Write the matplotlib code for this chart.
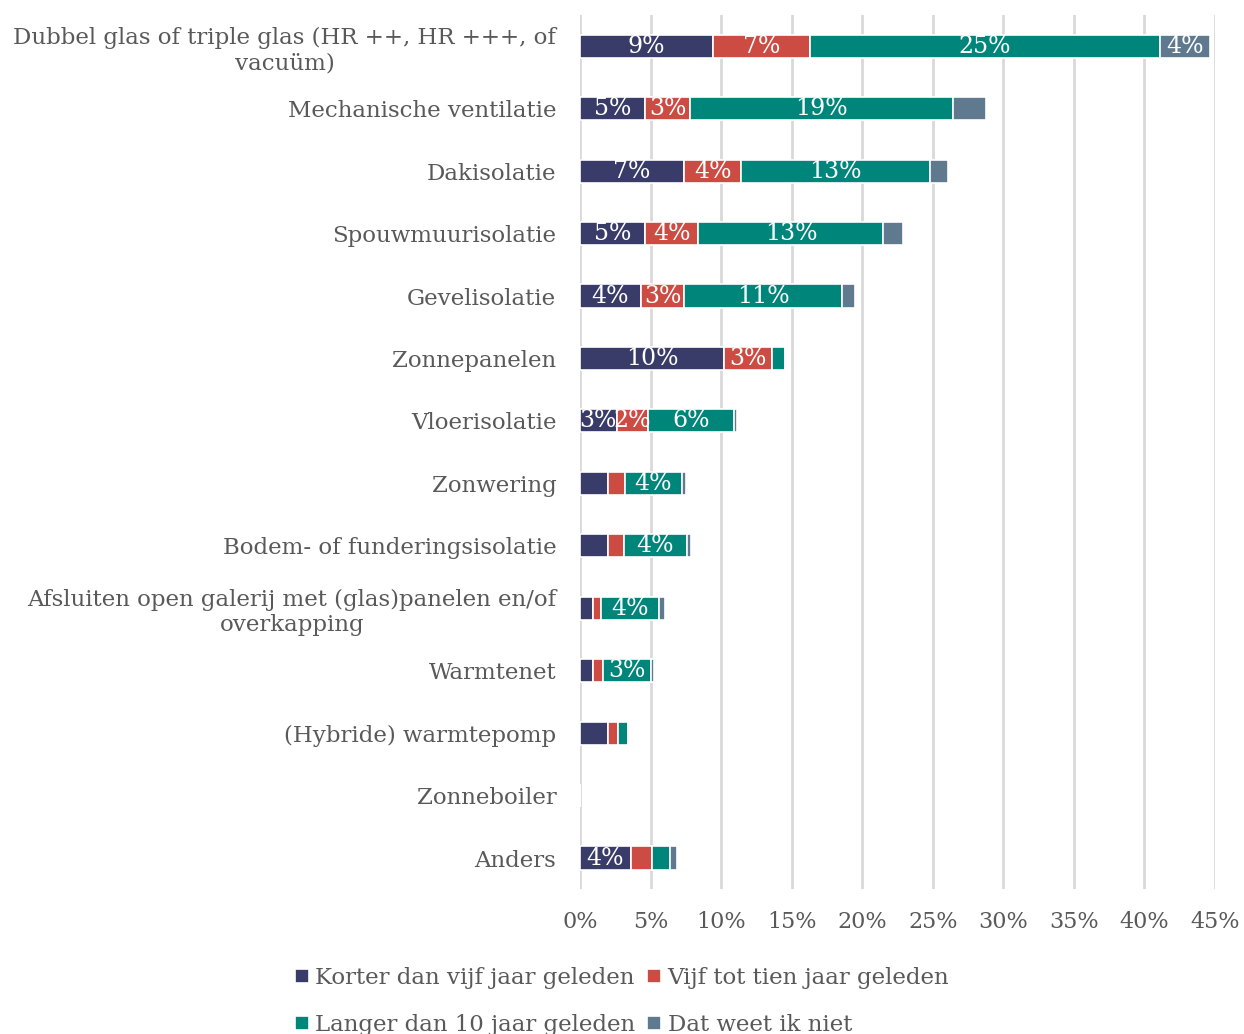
import numpy as np
import matplotlib.pyplot as plt

plt.rcParams['font.family'] = ['DejaVu Serif']

categories = [
    'Dubbel glas of triple glas (HR ++, HR +++, of\nvacuüm)',
    'Mechanische ventilatie',
    'Dakisolatie',
    'Spouwmuurisolatie',
    'Gevelisolatie',
    'Zonnepanelen',
    'Vloerisolatie',
    'Zonwering',
    'Bodem- of funderingsisolatie',
    'Afsluiten open galerij met (glas)panelen en/of\noverkapping',
    'Warmtenet',
    '(Hybride) warmtepomp',
    'Zonneboiler',
    'Anders',
]

series_names = ['Korter dan vijf jaar geleden', 'Vijf tot tien jaar geleden',
                'Langer dan 10 jaar geleden', 'Dat weet ik niet']

korter = [9.4, 4.6, 7.4, 4.6, 4.3, 10.2, 2.6, 2.0, 2.0, 0.9, 0.9, 2.0, 0.0, 3.6]
vijf_tien = [6.9, 3.2, 4.0, 3.8, 3.1, 3.4, 2.2, 1.2, 1.1, 0.6, 0.7, 0.7, 0.0, 1.5]
langer = [24.8, 18.6, 13.4, 13.1, 11.2, 0.9, 6.1, 4.0, 4.45, 4.1, 3.4, 0.7, 0.0, 1.3]
weet_niet = [3.55, 2.4, 1.25, 1.4, 0.9, 0.0, 0.2, 0.3, 0.35, 0.45, 0.25, 0.0, 0.0, 0.45]

colors = ['#393b68', '#cc4c43', '#00857a', '#5f7a8f']
# kleinste waarde die nog een label krijgt, per reeks
min_label = [2.1, 2.1, 2.1, 3.0]

fig = plt.figure(figsize=(12.44, 10.34), dpi=100)
ax = fig.add_axes([0.4662, 0.140, 0.5105, 0.8455])

y = np.arange(len(categories))
left = np.zeros(len(categories))
handles = []
for name, vals, c, ml in zip(series_names, [korter, vijf_tien, langer, weet_niet], colors, min_label):
    vals = np.array(vals)
    h = ax.barh(y, vals, left=left, height=0.37, color=c, edgecolor='white',
                linewidth=1.2, label=name, zorder=3)
    handles.append(h)
    for yi, l, v in zip(y, left, vals):
        if v >= ml:
            ax.text(l + v / 2, yi, '%d%%' % round(v), ha='center', va='center',
                    color='white', fontsize=17, zorder=4)
    left += vals

ax.set_xlim(0, 45)
ax.set_ylim(len(categories) - 0.5, -0.5)
ax.set_xticks(np.arange(0, 46, 5))
ax.set_xticklabels(['%d%%' % t for t in range(0, 46, 5)])
ax.set_yticks(y)
ax.set_yticklabels(categories, multialignment='center')
ax.tick_params(axis='y', length=0, labelsize=16.5, labelcolor='#595959', pad=17)
ax.tick_params(axis='x', length=0, labelsize=16, labelcolor='#595959', pad=16)
ax.grid(axis='x', color='#d9d9d9', linewidth=2, zorder=0)
for s in ax.spines.values():
    s.set_visible(False)

# volgorde zodat de legenda per rij leest
order = [0, 2, 1, 3]
fig.legend([handles[i] for i in order], [series_names[i] for i in order],
           loc='lower center', bbox_to_anchor=(0.5, -0.022), ncol=2, frameon=False,
           fontsize=16.5, labelcolor='#595959', handlelength=0.6, handleheight=0.6,
           handletextpad=0.3, columnspacing=0.5, labelspacing=1.1)

plt.savefig('out.png', dpi=100)
